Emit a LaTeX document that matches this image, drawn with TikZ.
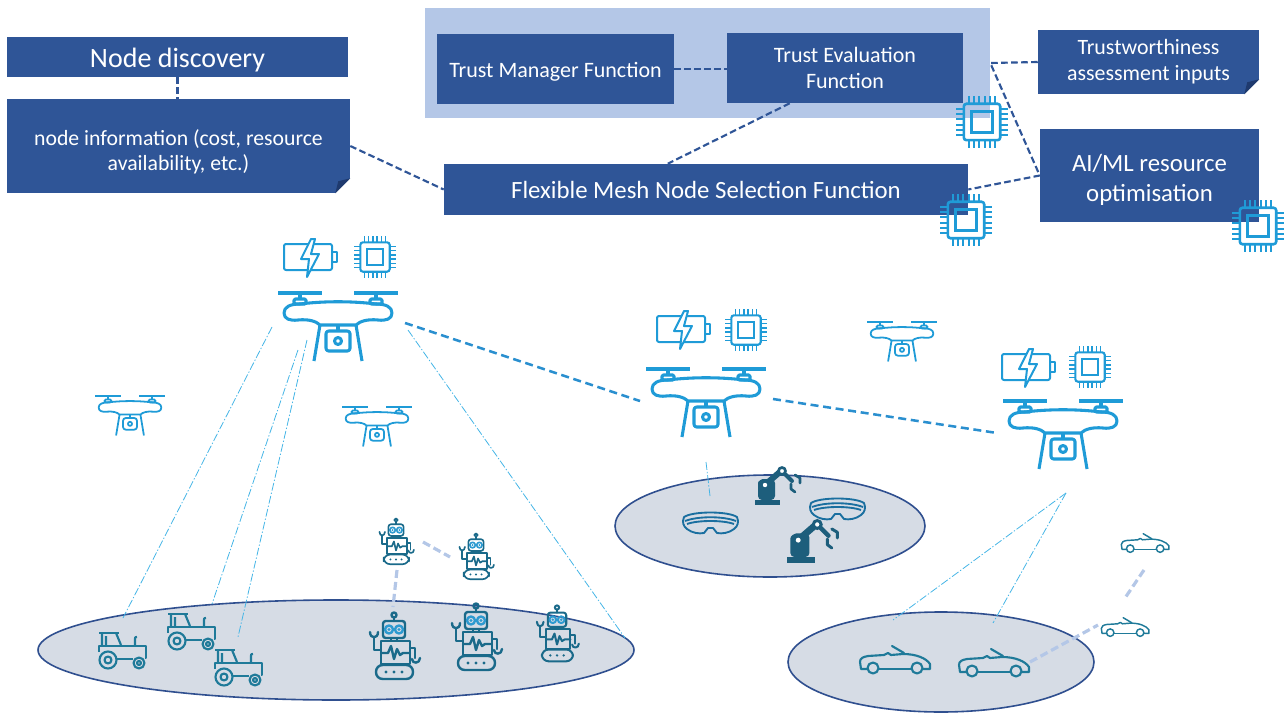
\documentclass[tikz,border=0pt]{standalone}
\usepackage{fontspec}
\setmainfont{Carlito}
\usetikzlibrary{calc}

\definecolor{boxblue}{HTML}{2F5597}
\definecolor{folddark}{HTML}{1F3A6E}
\definecolor{panelc}{HTML}{B4C7E7}
\definecolor{ellfill}{HTML}{D6DCE5}
\definecolor{ellline}{HTML}{2F4F8F}
\definecolor{iconcyan}{HTML}{1F9BD7}
\definecolor{linkcyan}{HTML}{2A8FCF}
\definecolor{raycyan}{HTML}{45B5E6}
\definecolor{lavender}{HTML}{B4C7E7}
\definecolor{tealc}{HTML}{1F7A99}
\definecolor{robotc}{HTML}{1A6A8A}
\definecolor{eyec}{HTML}{2E9AD0}
\definecolor{armc}{HTML}{1D5E7C}
\definecolor{gogc}{HTML}{1A6FA0}

\tikzset{
  fbox/.style={fill=boxblue, text=white, inner sep=0pt, align=center},
  conn/.style={draw=boxblue, line width=1.6pt, dash pattern=on 5pt off 2.5pt},
  dlink/.style={draw=linkcyan, line width=1.9pt, dash pattern=on 6pt off 3.5pt},
  ray/.style={draw=raycyan, line width=0.6pt, dash pattern=on 6pt off 1.5pt on 1pt off 1.5pt},
  lav/.style={draw=lavender, line width=2.4pt, dash pattern=on 6pt off 3pt},
  plate/.style={fill=ellfill, draw=ellline, line width=1.2pt},
}

% drone: name, centre x, propeller-bar y, scale
\newcommand\iconDrone[4]{%
  \begin{scope}[shift={(#2,#3)}, scale=#4, draw=iconcyan, line width=#4*2.3pt, line join=round]
    \coordinate (#1) at (0,0);
    \coordinate (#1-l) at (-66,32);
    \coordinate (#1-r) at (67,30);
    \draw (-60,0) -- (-16,0) (16,0) -- (60,0);
    \draw (-38,0) -- (-38,6) (38,0) -- (38,6);
    \draw[rounded corners=1pt] (-44,6) rectangle (-32,11) (32,6) rectangle (44,11);
    \draw (-38,11) .. controls (-14,8) and (14,8) .. (38,11)
      .. controls (48,11) and (54,14) .. (54,20)
      .. controls (54,26) and (48,28) .. (40,27)
      .. controls (30,26) and (22,28) .. (18,32)
      -- (-18,32)
      .. controls (-22,28) and (-30,26) .. (-40,27)
      .. controls (-48,28) and (-54,26) .. (-54,20)
      .. controls (-54,14) and (-48,11) .. (-38,11) -- cycle;
    \draw (-18,32) -- (-24,68) (18,32) -- (24,68);
    \draw (0,32) -- (0,38);
    \draw[rounded corners=2pt] (-12,38) rectangle (12,58);
    \draw (0,48) circle (3.5);
  \end{scope}}

% processor chip: centre x, y, scale
\newcommand\iconChip[3]{%
  \begin{scope}[shift={(#1,#2)}, scale=#3, draw=iconcyan]
    \draw[line width=#3*1.5pt, rounded corners=2pt] (-14,-14) rectangle (14,14);
    \draw[line width=#3*1.5pt] (-8,-8) rectangle (8,8);
    \foreach \p in {-10,-6,-2,2,6,10} {
      \draw[line width=#3*1.1pt] (\p,-14) -- (\p,-20) (\p,14) -- (\p,20) (-14,\p) -- (-20,\p) (14,\p) -- (20,\p);
    }
  \end{scope}}

% battery with charging bolt: centre x, y
\newcommand\iconBattery[2]{%
  \begin{scope}[shift={(#1,#2)}, draw=iconcyan, line width=1.5pt, line join=round]
    \draw[rounded corners=1.5pt] (-26,-13) rectangle (22,13);
    \draw (22,-5) rectangle (27,5);
    \draw[fill=white] (1,-18) -- (-9,2) -- (-1,2) -- (-3,20) -- (9,-3) -- (1,-3) -- (5,-18) -- cycle;
  \end{scope}}

% tractor: centre x, y
\newcommand\iconTractor[2]{%
  \begin{scope}[shift={(#1,#2)}, shift={(-25,-18)}, draw=tealc, line width=1.6pt, line join=round]
    \draw (2,1) -- (22,1);
    \draw (5,1) -- (5,13) (19,1) -- (24,13) (9,4) -- (9,13);
    \draw (2,20) -- (2,14) -- (49,14) -- (49,26) -- (48,26);
    \draw (38,14) -- (38,7) .. controls (38,5) .. (40,5);
    \draw (20,27) -- (36,27);
    \draw (11,28) circle (8.5) (11,28) circle (3.5);
    \draw (42,31) circle (5.5) (42,31) circle (2);
  \end{scope}}

% robot on tracks: centre x, top y, scale
\newcommand\iconRobot[3]{%
  \begin{scope}[shift={(#1,#2)}, scale=#3, draw=robotc, line width=#3*1.8pt, line join=round, line cap=round]
    \draw (0,3) circle (2.5);
    \draw (0,5.5) -- (0,9);
    \draw[rounded corners=2pt] (-11,9) rectangle (11,26);
    \draw[eyec] (-5,17.5) circle (4) (5,17.5) circle (4);
    \fill[eyec] (-5,17.5) circle (1.6) (5,17.5) circle (1.6);
    \draw (-3,26) rectangle (3,29);
    \draw (-13,29) rectangle (16,52);
    \draw (-13,41) -- (-6,41) -- (-3,34) -- (0,47) -- (3,37) -- (6,43) -- (9,41) -- (16,41);
    \draw[rounded corners=5pt] (-18,53) rectangle (19,67);
    \fill[robotc] (-8,60) circle (1.6) (0,60) circle (1.6) (8,60) circle (1.6);
    \draw (-13,38) -- (-20,38) -- (-20,26);
    \draw (-24,20) .. controls (-24,27) and (-16,27) .. (-16,20);
    \draw (16,36) -- (21,36) -- (21,46);
    \draw (18,47) .. controls (18,52) and (26,52) .. (26,46);
  \end{scope}}

% open-top car: left x, top y, scale
\newcommand\iconCar[3]{%
  \begin{scope}[shift={(#1,#2)}, scale=#3, draw=tealc, line width=#3*1.6pt, line join=round, line cap=round]
    \draw (10,24) -- (3,24) -- (2,17) .. controls (2,13) and (5,12) .. (10,11) -- (26,10) -- (30,8) -- (33,10) -- (45,9)
      .. controls (58,9) and (68,13) .. (72,19) -- (72,24) -- (65,24);
    \draw (21,24) -- (53,24);
    \draw (15,23) circle (5.5) (59,23) circle (5.5);
    \draw (34,1) -- (46,8);
  \end{scope}}

% industrial robot arm: left x, top y, scale
\newcommand\iconArm[3]{%
  \begin{scope}[shift={(#1,#2)}, scale=#3, draw=armc, fill=armc, line cap=round]
    \fill (0,33) rectangle (25,38);
    \fill[rounded corners=3pt] (3,33) -- (3,20) .. controls (3,14) and (7,12) .. (12,12) -- (20,12) -- (20,33) -- cycle;
    \draw[line width=#3*4.5pt] (11,17) -- (26,4);
    \fill[white] (10,18) circle (2.2);
    \draw[line width=#3*2pt, fill=white] (27,4) circle (3.5);
    \draw[line width=#3*3pt] (30,7) -- (37,14);
    \draw[line width=#3*2pt, line join=round] (40,8) -- (45,11) -- (45,16) (36,17) -- (36,22) -- (40,25);
  \end{scope}}

% mixed-reality goggles: left x, top y
\newcommand\iconGoggles[2]{%
  \begin{scope}[shift={(#1,#2)}, draw=gogc, line width=1.4pt, line join=round]
    \draw (1,5) .. controls (10,-1) and (45,-1) .. (54,5) .. controls (56,10) and (55,14) .. (51,17)
      .. controls (46,21) and (39,22) .. (34,21) -- (30,16) -- (25,16) -- (21,21)
      .. controls (16,22) and (9,21) .. (4,17) .. controls (0,14) and (-1,10) .. (1,5) -- cycle;
    \draw (2,9) .. controls (15,4) and (40,4) .. (53,9);
    \draw (4,12) .. controls (15,8) and (40,8) .. (51,12);
  \end{scope}}

\begin{document}
\begin{tikzpicture}[x=0.75pt, y=-0.75pt]
  \useasboundingbox (0,0) rectangle (1285,713);

  % ---- function blocks ----
  \node[fill=panelc, inner sep=0pt, minimum width=423.75pt, minimum height=82.5pt] (pnl) at (707.5,63) {};
  \node[fbox, minimum width=255.75pt, minimum height=30pt, font=\fontsize{21}{24}\selectfont] (nd) at (177.5,57) {\rule{0pt}{19.5pt}Node discovery};
  \node[fbox, minimum width=257.25pt, minimum height=70.5pt, font=\fontsize{16.3}{19}\selectfont] (ni) at (178.5,146) {\rule{0pt}{21pt}node information (cost, resource\\availability, etc.)};
  \node[fbox, minimum width=177.75pt, minimum height=52.5pt, font=\fontsize{16.5}{19.5}\selectfont] (tm) at (555.5,69) {\rule{0pt}{15pt}Trust Manager Function};
  \node[fbox, minimum width=177pt, minimum height=52.5pt, font=\fontsize{16.5}{19.5}\selectfont] (te) at (845,68) {Trust Evaluation\\Function};
  \node[fbox, minimum width=393pt, minimum height=38.25pt, font=\fontsize{18.6}{22}\selectfont] (fx) at (706,189.5) {Flexible Mesh Node Selection Function};
  \node[fbox, minimum width=165.75pt, minimum height=48pt, font=\fontsize{16.4}{19.5}\selectfont] (tw) at (1148.5,62) {Trustworthiness\\assessment inputs};
  \node[fbox, minimum width=164.25pt, minimum height=69.75pt, font=\fontsize{18.6}{22.5}\selectfont] (ai) at (1149.5,175.5) {\rule{0pt}{19pt}AI/ML resource\\optimisation};

  % folded corners
  \foreach \b in {ni, tw} {
    \fill[white] ($(\b.south east)+(-15,0)$) -- (\b.south east) -- ($(\b.south east)+(0,-15)$) -- cycle;
    \fill[folddark] ($(\b.south east)+(-15,0)$) -- ($(\b.south east)+(0,-15)$) -- ($(\b.south east)+(-12,-12)$) -- cycle;
  }

  % ---- block connections ----
  \draw[conn] (nd.south) -- (nd.south |- ni.north);
  \draw[conn] (tm.east) -- (tm.east -| te.west);
  \draw[conn] ($(te.south west)+(63,0)$) -- ($(fx.north west)+(224,0)$);
  \draw[conn] (ni.east) -- (fx.west);
  \draw[conn] (tw.west) -- (pnl.east) -- (ai.west) -- (fx.east);

  \iconChip{982}{122}{1.3}
  \iconChip{966}{220}{1.3}
  \iconChip{1258}{226}{1.3}

  % ---- ground clusters ----
  \draw[plate] (336,650) ellipse [x radius=298, y radius=50];
  \draw[plate] (770,526) ellipse [x radius=155, y radius=51];
  \draw[plate] (941,662) ellipse [x radius=153, y radius=50];

  % ---- drones ----
  \iconDrone{dA}{338}{293}{1}
  \iconBattery{310}{257}
  \iconChip{375}{257}{1.05}
  \iconDrone{dB}{130}{396}{0.58}
  \iconDrone{dC}{377}{407}{0.58}
  \iconDrone{dD}{706}{369}{1}
  \iconBattery{683}{329}
  \iconChip{746}{330}{1.05}
  \iconDrone{dE}{902}{322}{0.58}
  \iconDrone{dF}{1063}{401}{1}
  \iconBattery{1028}{367}
  \iconChip{1090}{367}{1.05}

  \draw[dlink] (dA-r) -- (dD-l);
  \draw[dlink] (dD-r) -- (dF-l);

  % coverage rays
  \coordinate (a1) at (272,327);  \coordinate (g1) at (123,618);
  \coordinate (a2) at (298,350);  \coordinate (g2) at (212,604);
  \coordinate (a3) at (307,340);  \coordinate (g3) at (238,637);
  \coordinate (a4) at (408,330);  \coordinate (g4) at (625,638);
  \coordinate (d1) at (706,462);  \coordinate (h1) at (710,496);
  \coordinate (f1) at (1066,493); \coordinate (k1) at (893,620); \coordinate (k2) at (993,623);
  \draw[ray] (a1) -- (g1);
  \draw[ray] (a2) -- (g2);
  \draw[ray] (a3) -- (g3);
  \draw[ray] (a4) -- (g4);
  \draw[ray] (d1) -- (h1);
  \draw[ray] (f1) -- (k1);
  \draw[ray] (f1) -- (k2);

  % ---- field devices ----
  \iconTractor{122}{650}
  \iconTractor{191}{631}
  \iconTractor{238}{667}

  \iconRobot{394}{612}{1}
  \iconRobot{476}{603}{1}
  \iconRobot{557}{605}{0.84}
  \iconRobot{396}{518}{0.69}
  \iconRobot{476}{533}{0.69}

  \iconArm{755}{467}{1}
  \iconArm{787}{520}{1.12}
  \iconGoggles{683}{512}
  \iconGoggles{810}{498}

  \iconCar{858}{645}{1}
  \iconCar{957}{648}{1}
  \iconCar{1100}{617}{0.68}
  \iconCar{1120}{533}{0.68}

  % device-to-device links
  \coordinate (r4e) at (423,542);  \coordinate (r5w) at (450,557);
  \coordinate (r4s) at (397,570);  \coordinate (r1n) at (393,607);
  \coordinate (c4s) at (1144,570); \coordinate (c3n) at (1125,598);
  \coordinate (c2e) at (1030,662); \coordinate (c3w) at (1098,625);
  \draw[lav] (r4e) -- (r5w);
  \draw[lav] (r4s) -- (r1n);
  \draw[lav] (c4s) -- (c3n);
  \draw[lav] (c2e) -- (c3w);
\end{tikzpicture}
\end{document}
